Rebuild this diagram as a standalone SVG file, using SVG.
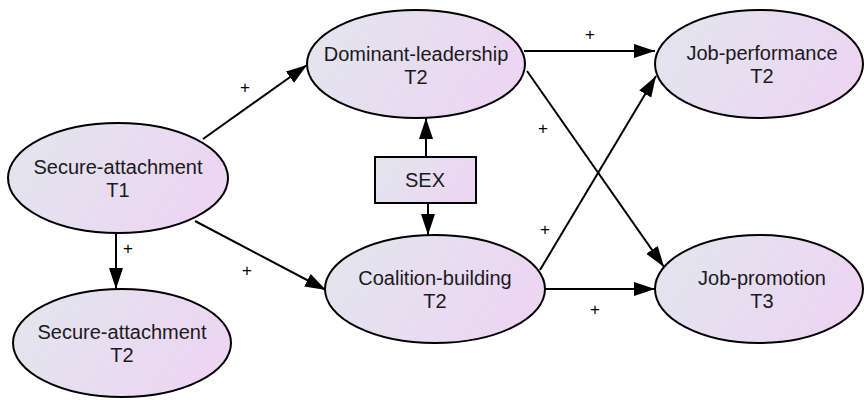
<svg xmlns="http://www.w3.org/2000/svg" width="864" height="400" viewBox="0 0 864 400">
<defs>
<linearGradient id="g" x1="0" y1="0" x2="1" y2="0.3">
<stop offset="0" stop-color="#e2e6ee"/>
<stop offset="1" stop-color="#ecd6f2"/>
</linearGradient>
<marker id="ah" markerUnits="userSpaceOnUse" markerWidth="24" markerHeight="16" refX="21" refY="7" orient="auto">
<path d="M0,0 L21,7 L0,14 Z" fill="#000"/>
</marker>
<style>
.n{fill:url(#g);stroke:#000;stroke-width:2}
.t{font-family:"Liberation Sans",Arial,sans-serif;font-size:20px;fill:#1a1a1a;text-anchor:middle}
.l{font-family:"Liberation Sans",Arial,sans-serif;font-size:17px;fill:#000;text-anchor:middle}
.c{stroke:#000;stroke-width:2;fill:none;marker-end:url(#ah)}
</style>
</defs>
<rect width="864" height="400" fill="#fff"/>
<g id="connectors">
<line class="c" x1="203" y1="139" x2="307" y2="65"/>
<line class="c" x1="116" y1="232" x2="116" y2="289"/>
<line class="c" x1="195" y1="221" x2="326" y2="290"/>
<line class="c" x1="426" y1="157" x2="426" y2="118"/>
<line class="c" x1="428" y1="203" x2="428" y2="235"/>
<line class="c" x1="524" y1="51" x2="655" y2="51"/>
<line class="c" x1="527" y1="71" x2="664" y2="267"/>
<line class="c" x1="540" y1="270" x2="656" y2="76"/>
<line class="c" x1="545" y1="289" x2="655" y2="289"/>
<text class="l" x="245" y="93">+</text>
<text class="l" x="128" y="254">+</text>
<text class="l" x="247" y="276">+</text>
<text class="l" x="590" y="40">+</text>
<text class="l" x="543" y="134">+</text>
<text class="l" x="545" y="235">+</text>
<text class="l" x="595" y="315">+</text>
</g>
<g id="secure-t1">
<ellipse class="n" cx="118" cy="178" rx="110" ry="55"/>
<text class="t" x="118" y="174">Secure-attachment</text>
<text class="t" x="118" y="197">T1</text>
</g>
<g id="secure-t2">
<ellipse class="n" cx="122" cy="343" rx="109" ry="54"/>
<text class="t" x="122" y="339">Secure-attachment</text>
<text class="t" x="122" y="362">T2</text>
</g>
<g id="dominant">
<ellipse class="n" cx="416" cy="64" rx="109" ry="54"/>
<text class="t" x="416" y="61">Dominant-leadership</text>
<text class="t" x="416" y="84">T2</text>
</g>
<g id="coalition">
<ellipse class="n" cx="435" cy="289" rx="110" ry="54"/>
<text class="t" x="435" y="285">Coalition-building</text>
<text class="t" x="435" y="308">T2</text>
</g>
<g id="sex">
<rect class="n" x="375" y="157" width="101" height="46"/>
<text class="t" x="425" y="187">SEX</text>
</g>
<g id="job-performance">
<ellipse class="n" cx="759" cy="64" rx="104" ry="54"/>
<text class="t" x="762" y="60">Job-performance</text>
<text class="t" x="762" y="83">T2</text>
</g>
<g id="job-promotion">
<ellipse class="n" cx="759" cy="289" rx="104" ry="54"/>
<text class="t" x="762" y="285">Job-promotion</text>
<text class="t" x="762" y="308">T3</text>
</g>
</svg>
